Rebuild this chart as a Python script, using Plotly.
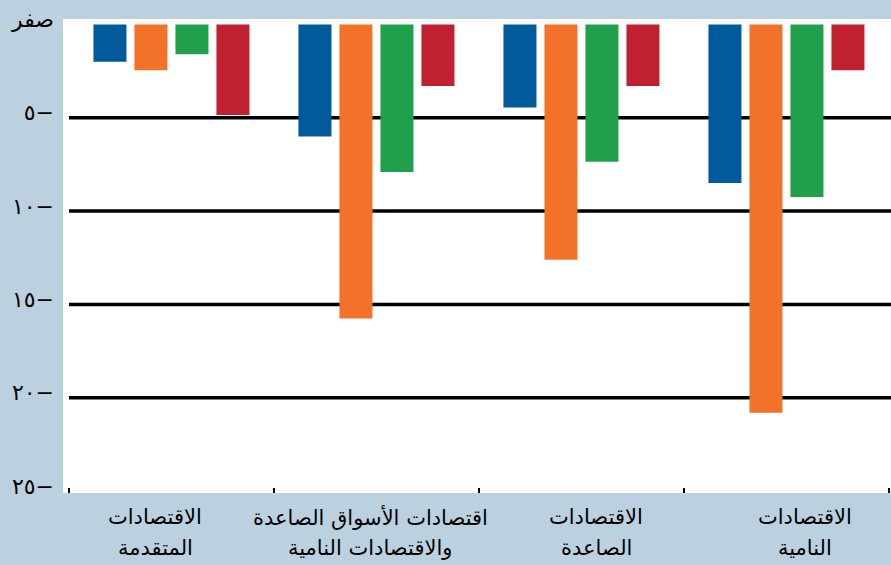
import plotly.graph_objects as go

categories = [
    "الاقتصادات المتقدمة",
    "اقتصادات الأسواق الصاعدة والاقتصادات النامية",
    "الاقتصادات الصاعدة",
    "الاقتصادات النامية",
]
label_line1 = ["الاقتصادات", "اقتصادات الأسواق الصاعدة", "الاقتصادات", "الاقتصادات"]
label_line2 = ["المتقدمة", "والاقتصادات النامية", "الصاعدة", "النامية"]

series_blue = [-2.0, -6.0, -4.45, -8.5]
series_orange = [-2.45, -15.75, -12.6, -20.8]
series_green = [-1.6, -7.9, -7.35, -9.25]
series_red = [-4.85, -3.3, -3.3, -2.45]

ytick_vals = [0, -5, -10, -15, -20, -25]
ytick_text = ["صفر", "٥−", "١٠−", "١٥−", "٢٠−", "٢٥−"]
grid_vals = [-5, -10, -15, -20]

# label placement (pixels) - style only
label_xshift = [-16, -6, 15, 19]

colors = ["#005a9c", "#f3722a", "#21a04c", "#c0202f"]
series = [series_blue, series_orange, series_green, series_red]

fig = go.Figure()
for vals, col in zip(series, colors):
    fig.add_trace(go.Bar(x=categories, y=vals, marker=dict(color=col, line=dict(width=0)),
                         showlegend=False, hoverinfo="skip"))

for g in grid_vals:
    fig.add_shape(type="line", xref="x", yref="y", x0=-0.5, x1=3.6, y0=g, y1=g,
                  line=dict(color="black", width=3.5), layer="below")

font_family = "DejaVu Sans"
for cat, l1, l2, dx in zip(categories, label_line1, label_line2, label_xshift):
    for txt, dy in ((l1, -24), (l2, -55)):
        fig.add_annotation(x=cat, xref="x", y=0, yref="paper", text=txt, showarrow=False,
                           xanchor="center", yanchor="middle", xshift=dx, yshift=dy,
                           font=dict(family=font_family, size=21, color="black"))

fig.update_layout(
    width=891, height=565,
    margin=dict(l=63, r=0, t=19, b=72),
    paper_bgcolor="#bcd1e0",
    plot_bgcolor="white",
    barmode="group",
    bargap=0.2,
    bargroupgap=0.195,
    font=dict(family=font_family, size=21, color="black"),
    xaxis=dict(
        type="category",
        range=[-0.529, 3.51],
        tickson="boundaries",
        ticks="inside",
        ticklen=5,
        tickwidth=1.5,
        tickcolor="black",
        showticklabels=False,
        automargin=False,
        showgrid=False,
        showline=False,
        zeroline=False,
    ),
    yaxis=dict(
        range=[-25.1, 0.29],
        tickvals=ytick_vals,
        ticktext=ytick_text,
        automargin=False,
        showgrid=False,
        zeroline=False,
        showline=False,
        ticks="",
        ticklabelstandoff=8,
        ticklabelshift=-5,
        tickfont=dict(family=font_family, size=22, color="black"),
    ),
)

fig.write_html("out.html", config={"displayModeBar": False},
               post_script="document.body.style.margin='0';document.body.style.overflow='hidden';")
